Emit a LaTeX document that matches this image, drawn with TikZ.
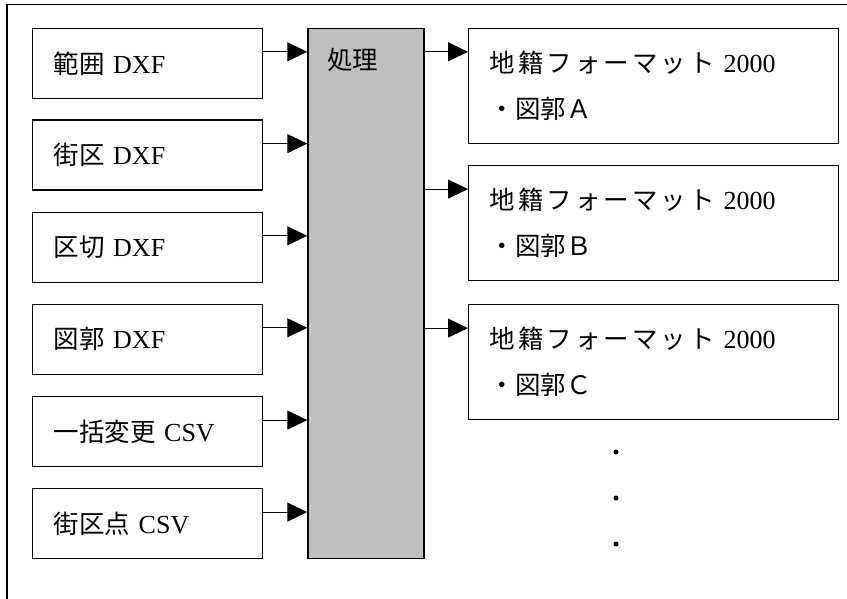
\documentclass[tikz,border=0pt]{standalone}
\usepackage{fontspec}
\setmainfont{Liberation Serif}
\newfontfamily\jpfont{Noto Sans CJK JP}[Scale=0.98]
\newfontfamily\jpwide{Noto Sans CJK JP}[Scale=0.98,LetterSpace=12]
\newcommand\J[1]{{\jpfont #1}}
\newcommand\JW[1]{{\jpwide #1}}
\usetikzlibrary{arrows.meta}
\definecolor{procgray}{RGB}{192,192,192}
\begin{document}
\begin{tikzpicture}[x=1pt,y=-1pt,
  inbox/.style={draw, line width=1.2pt, minimum height=70pt, text width=188pt,
    inner xsep=21pt, inner ysep=0pt, align=left, anchor=north west,
    font=\fontsize{26}{30}\selectfont},
  outbox/.style={draw, line width=1.2pt, minimum height=115pt, text width=328pt,
    inner xsep=21pt, inner ysep=0pt, align=left, anchor=north west,
    font=\fontsize{26}{46}\selectfont},
  procbox/.style={draw, line width=1.2pt, fill=procgray, minimum width=116pt,
    minimum height=530pt, inner sep=0pt, anchor=north west},
  arr/.style={line width=1pt, -{Triangle[length=20pt,width=19pt]}},
  dotmark/.style={circle, fill=black, inner sep=0pt, minimum size=5pt}
]
\useasboundingbox (0,0) rectangle (847,599);
\draw[line width=1.8pt] (7,599) -- (7,4.5) -- (847,4.5);

% input boxes
\node[inbox] (l1) at (32,27.7)  {\J{範囲} DXF};
\node[inbox] (l2) at (32,119.5) {\J{街区} DXF};
\node[inbox] (l3) at (32,211.7) {\J{区切} DXF};
\node[inbox] (l4) at (32,303.7) {\J{図郭} DXF};
\node[inbox] (l5) at (32,396)   {\J{一括変更} CSV};
\node[inbox] (l6) at (32,488)   {\J{街区点} CSV};

% process
\node[procbox] (proc) at (307.3,27.7) {};
\node[anchor=west, inner sep=0pt, font=\fontsize{26}{30}\selectfont] (proct) at (327,60) {\J{処理}};

% output boxes
\node[outbox] (r1) at (468,27.7) {\JW{地籍フォーマット} 2000\\\J{・図郭Ａ}};
\node[outbox] (r2) at (468,165)  {\JW{地籍フォーマット} 2000\\\J{・図郭Ｂ}};
\node[outbox] (r3) at (468,304)  {\JW{地籍フォーマット} 2000\\\J{・図郭Ｃ}};

% arrows in
\foreach \n in {l1,l2,l3,l4,l5,l6}{
  \draw[arr] ([yshift=11.5pt]\n.east) -- ([yshift=11.5pt]\n.east -| proc.west);
}
% arrows out
\foreach \n in {r1,r2,r3}{
  \draw[arr] ([yshift=34pt]\n.west -| proc.east) -- ([yshift=34pt]\n.west);
}

% continuation dots
\node[dotmark] (d1) at (616,452) {};
\node[dotmark] (d2) at (616,498) {};
\node[dotmark] (d3) at (616,544) {};
\end{tikzpicture}
\end{document}
